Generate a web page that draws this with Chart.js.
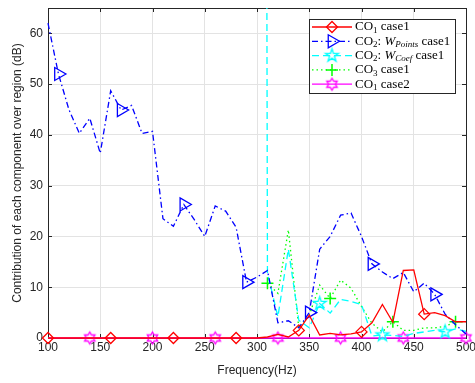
<!DOCTYPE html>
<html>
<head>
<meta charset="utf-8">
<script src="https://cdn.jsdelivr.net/npm/chart.js@4.4.0/dist/chart.umd.min.js"></script>
<style>
  body { margin: 0; background: #fff; }
</style>
</head>
<body>
<canvas id="chart" width="475" height="383"></canvas>
<script>
// --------------------------------------------------------------------
// DATA (dB, one value every 10 Hz)
// --------------------------------------------------------------------
const freqs = [100, 110, 120, 130, 140, 150, 160, 170, 180, 190,
               200, 210, 220, 230, 240, 250, 260, 270, 280, 290,
               300, 310, 320, 330, 340, 350, 360, 370, 380, 390,
               400, 410, 420, 430, 440, 450, 460, 470, 480, 490, 500];

const co1Case1 = [0, 0, 0, 0, 0, 0, 0, 0, 0, 0,
                  0, 0, 0, 0, 0, 0, 0, 0, 0, 0,
                  0, 0.2, 0.7, 0.2, 1.5, 4.5, 0.6, 0.9, 0.6, 0.8,
                  1.2, 3.0, 6.6, 3.1, 13.3, 13.4, 4.7, 5.0, 4.4, 3.2, 3.2];

const co2Points = [62, 52, 45, 40.3, 43.3, 36.4, 48.7, 44.9, 45.8, 40.3,
                   40.7, 23.5, 22, 26.3, 23.3, 20, 26, 25, 21.8, 11,
                   12, 13.3, 3, 3.4, 2, 5, 17.5, 20, 24.2, 24.6,
                   20, 14.6, 13, 11.7, 12.9, 9.1, 10.8, 8.6, 4.7, 2.6, 0.8];

// 300 Hz goes far above the axis (only the near-vertical line shows)
const co2Coef = [null, null, null, null, null, null, null, null, null, null,
                 null, null, null, null, null, null, null, null, null, null,
                 1000, 12.8, 4.2, 17.5, 3.5, 2, 6.8, 4.9, 7.6, 7.2,
                 6.6, 0.4, 0.6, 0.5, 0.3, 0.9, 1.2, 1.5, 1.2, 1.8, 1.3];

const co3Case1 = [null, null, null, null, null, null, null, null, null, null,
                  null, null, null, null, null, null, null, null, null, null,
                  null, 10.8, 8.8, 21.3, 2, 4.5, 10.4, 7.8, 11.4, 9.8,
                  6.2, 2.9, 1.2, 3.2, 1.5, 1.5, 2, 2, 2.3, 3.2, 3.2];

const co1Case2 = [0, 0, 0, 0, 0, 0, 0, 0, 0, 0,
                  0, 0, 0, 0, 0, 0, 0, 0, 0, 0,
                  0, 0, 0, 0, 0, 0, 0, 0, 0, 0,
                  0, 0, 0, 0, 0, 0, 0, 0, 0, 0, 0];

const xTicks = [100, 150, 200, 250, 300, 350, 400, 450, 500];
const yTicks = [0, 10, 20, 30, 40, 50, 60];

const xTitle = "Frequency(Hz)";
const yTitle = "Contribution of each component over region (dB)";

// legend text pieces: sub = subscript, it = italic
const legendLabels = [
    [{ t: "CO" }, { t: "1", sub: true }, { t: " case1" }],
    [{ t: "CO" }, { t: "2", sub: true }, { t: ": " }, { t: "W", it: true }, { t: "Points", sub: true, it: true }, { t: " case1" }],
    [{ t: "CO" }, { t: "2", sub: true }, { t: ": " }, { t: "W", it: true }, { t: "Coef", sub: true, it: true }, { t: " case1" }],
    [{ t: "CO" }, { t: "3", sub: true }, { t: " case1" }],
    [{ t: "CO" }, { t: "1", sub: true }, { t: " case2" }]
];

// --------------------------------------------------------------------
// MARKERS
// --------------------------------------------------------------------
function starMarker(points, outerR, innerR, color, lw) {
    const size = Math.ceil(outerR * 2 + lw * 2 + 2);
    const c = document.createElement("canvas");
    c.width = size;
    c.height = size;
    const g = c.getContext("2d");
    g.translate(size / 2, size / 2);
    g.beginPath();
    for (let i = 0; i < points * 2; i++) {
        const r = i % 2 ? innerR : outerR;
        const a = -Math.PI / 2 + i * Math.PI / points;
        g.lineTo(r * Math.cos(a), r * Math.sin(a));
    }
    g.closePath();
    g.strokeStyle = color;
    g.lineWidth = lw;
    g.stroke();
    return c;
}

const pentagram = starMarker(5, 6.8, 2.6, "#00ffff", 1.3);
const hexagram = starMarker(6, 6, 3.46, "#ff00ff", 1.3);

// marker on every 6th sample, shifted per series
function everySixth(offset, r) {
    return ctx => (ctx.dataIndex % 6 === offset ? r : 0);
}

function series(label, values, color, dash, style, radius, offset, extra) {
    return Object.assign({
        label: label,
        data: freqs.map((f, i) => ({ x: f, y: values[i] })),
        borderColor: color,
        backgroundColor: color,
        borderWidth: 1.3,
        borderDash: dash,
        pointStyle: style,
        pointRadius: everySixth(offset, radius),
        pointBorderColor: color,
        pointBackgroundColor: "rgba(0,0,0,0)",
        pointBorderWidth: 1.3,
        spanGaps: false,
        tension: 0,
        clip: { left: 8, right: 8, top: 0, bottom: 8 }
    }, extra || {});
}

const datasets = [
    series("CO1 case1", co1Case1, "#ff0000", [], "rectRot", 5.5, 0),
    series("CO2: W_Points case1", co2Points, "#0000ff", [6, 3, 1.5, 3], "triangle", 7.5, 1, { pointRotation: 90 }),
    series("CO2: W_Coef case1", co2Coef, "#00ffff", [7, 4], pentagram, 6, 2),
    series("CO3 case1", co3Case1, "#00ff00", [1.5, 3], "cross", 6, 3, { pointBorderWidth: 1.5 }),
    series("CO1 case2", co1Case2, "#ff00ff", [], hexagram, 6, 4)
];

// --------------------------------------------------------------------
// FRAME + INWARD TICKS (drawn under the data, like MATLAB)
// --------------------------------------------------------------------
const framePlugin = {
    id: "frame",
    beforeDatasetsDraw(chart) {
        const { ctx, chartArea: a, scales } = chart;
        ctx.save();
        ctx.strokeStyle = "#262626";
        ctx.lineWidth = 1;
        ctx.beginPath();
        xTicks.forEach(v => {
            const x = Math.round(scales.x.getPixelForValue(v)) + 0.5;
            ctx.moveTo(x, a.bottom); ctx.lineTo(x, a.bottom - 4);
            ctx.moveTo(x, a.top); ctx.lineTo(x, a.top + 4);
        });
        yTicks.forEach(v => {
            const y = Math.round(scales.y.getPixelForValue(v)) + 0.5;
            ctx.moveTo(a.left, y); ctx.lineTo(a.left + 4, y);
            ctx.moveTo(a.right, y); ctx.lineTo(a.right - 4, y);
        });
        ctx.stroke();
        ctx.strokeRect(Math.round(a.left) + 0.5, Math.round(a.top) + 0.5,
                       Math.round(a.right - a.left), Math.round(a.bottom - a.top));
        ctx.restore();
    }
};

// --------------------------------------------------------------------
// LEGEND (box top-right, with subscripts)
// --------------------------------------------------------------------
function drawRich(ctx, x, y, parts) {
    parts.forEach(p => {
        const size = p.sub ? 9 : 13;
        ctx.font = (p.it ? "italic " : "") + size + "px 'Liberation Serif', serif";
        ctx.fillText(p.t, x, p.sub ? y + 3.5 : y);
        x += ctx.measureText(p.t).width;
    });
}

const legendPlugin = {
    id: "mlegend",
    afterDraw(chart) {
        const ctx = chart.ctx;
        const box = { left: 309.5, top: 19.5, right: 455.5, bottom: 93.5 };
        ctx.save();
        ctx.fillStyle = "#ffffff";
        ctx.fillRect(box.left, box.top, box.right - box.left, box.bottom - box.top);
        ctx.strokeStyle = "#262626";
        ctx.lineWidth = 1;
        ctx.strokeRect(box.left, box.top, box.right - box.left, box.bottom - box.top);

        chart.data.datasets.forEach((ds, i) => {
            const y = 27 + i * 14.3;
            ctx.strokeStyle = ds.borderColor;
            ctx.lineWidth = ds.borderWidth;
            ctx.setLineDash(ds.borderDash);
            ctx.beginPath();
            ctx.moveTo(312, y);
            ctx.lineTo(352, y);
            ctx.stroke();
            ctx.setLineDash([]);
            ctx.lineWidth = ds.pointBorderWidth;
            ctx.fillStyle = "rgba(0,0,0,0)";
            Chart.helpers.drawPoint(ctx, {
                pointStyle: ds.pointStyle,
                rotation: ds.pointRotation || 0,
                radius: ds.pointRadius({ dataIndex: i }) || (ds.pointStyle === "triangle" ? 7.5 : 6),
                borderWidth: ds.pointBorderWidth
            }, 332, y);

            ctx.fillStyle = "#000000";
            ctx.textBaseline = "middle";
            ctx.textAlign = "left";
            drawRich(ctx, 355, y, legendLabels[i]);
        });
        ctx.restore();
    }
};

// --------------------------------------------------------------------
// CHART
// --------------------------------------------------------------------
const axisFont = { family: "'Liberation Sans', Arial, sans-serif", size: 12 };

new Chart(document.getElementById("chart").getContext("2d"), {
    type: "line",
    data: { datasets: datasets },
    options: {
        responsive: false,
        animation: false,
        layout: { padding: { top: 8, right: 9, left: 0, bottom: 0 } },
        plugins: {
            legend: { display: false },
            tooltip: { enabled: false }
        },
        scales: {
            x: {
                type: "linear",
                min: 100,
                max: 500,
                afterBuildTicks: s => { s.ticks = xTicks.map(v => ({ value: v })); },
                afterFit: s => { s.height = 45; s.paddingLeft = 0; s.paddingRight = 0; },
                ticks: { font: axisFont, color: "#262626", padding: 2, maxRotation: 0 },
                grid: { color: "#e3e3e3", drawTicks: false },
                border: { display: false },
                title: { display: true, text: xTitle, font: axisFont, color: "#262626", padding: { top: 0, bottom: 5 } }
            },
            y: {
                type: "linear",
                min: 0,
                max: 65,
                afterBuildTicks: s => { s.ticks = yTicks.map(v => ({ value: v })); },
                afterFit: s => { s.width = 48; s.paddingTop = 0; s.paddingBottom = 0; },
                ticks: { font: axisFont, color: "#262626", padding: 5 },
                grid: { color: "#e3e3e3", drawTicks: false },
                border: { display: false },
                title: { display: true, text: yTitle, font: axisFont, color: "#262626", padding: { top: 10, bottom: 0 } }
            }
        }
    },
    plugins: [framePlugin, legendPlugin]
});
</script>
</body>
</html>
